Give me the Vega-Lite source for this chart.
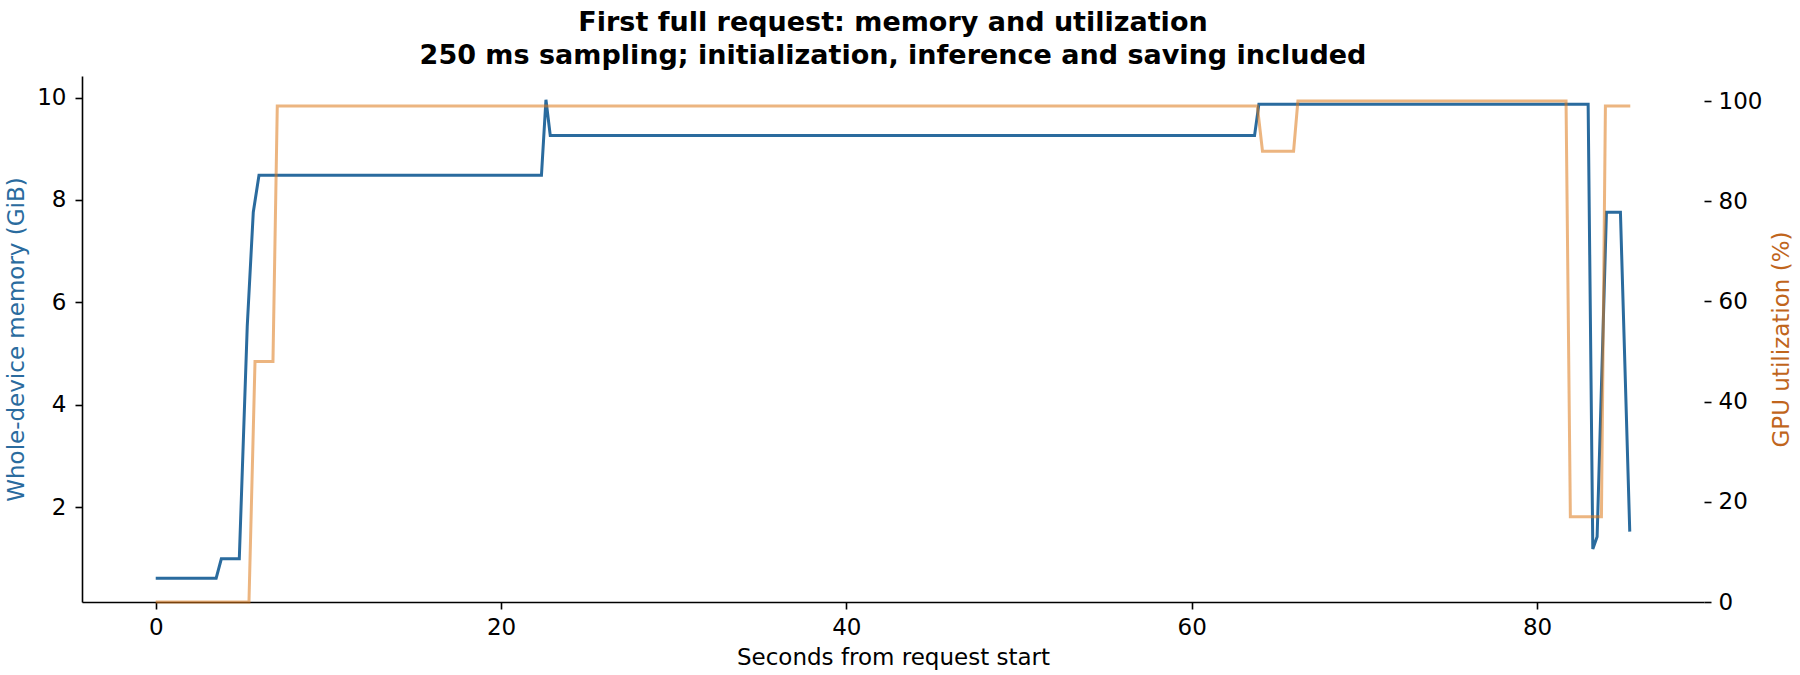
{
  "$schema": "https://vega.github.io/schema/vega-lite/v6.json",
  "width": 1622,
  "height": 526,
  "autosize": {"type": "none"},
  "padding": {"left": 82, "top": 76, "right": 96, "bottom": 73},
  "background": "white",
  "title": {
    "text": ["First full request: memory and utilization", "250 ms sampling; initialization, inference and saving included"],
    "font": "DejaVu Sans",
    "fontSize": 27,
    "fontWeight": "bold",
    "color": "black",
    "anchor": "middle",
    "lineHeight": 33,
    "offset": 6
  },
  "datasets": {
    "memory": [
      {"t": 0.0, "gib": 0.61},
      {"t": 3.5, "gib": 0.61},
      {"t": 3.8, "gib": 0.99},
      {"t": 4.84, "gib": 0.99},
      {"t": 5.3, "gib": 5.53},
      {"t": 5.65, "gib": 7.76},
      {"t": 5.98, "gib": 8.48},
      {"t": 22.34, "gib": 8.48},
      {"t": 22.6, "gib": 9.955},
      {"t": 22.85, "gib": 9.26},
      {"t": 63.64, "gib": 9.26},
      {"t": 63.89, "gib": 9.87},
      {"t": 82.96, "gib": 9.87},
      {"t": 83.23, "gib": 1.18},
      {"t": 83.48, "gib": 1.42},
      {"t": 84.02, "gib": 7.76},
      {"t": 84.83, "gib": 7.76},
      {"t": 85.37, "gib": 1.52}
    ],
    "gpu": [
      {"t": 0.0, "util": 0},
      {"t": 5.4, "util": 0},
      {"t": 5.75, "util": 48},
      {"t": 6.79, "util": 48},
      {"t": 7.04, "util": 99},
      {"t": 63.8, "util": 99},
      {"t": 64.1, "util": 90},
      {"t": 65.9, "util": 90},
      {"t": 66.15, "util": 100},
      {"t": 81.68, "util": 100},
      {"t": 81.93, "util": 17},
      {"t": 83.73, "util": 17},
      {"t": 83.96, "util": 99},
      {"t": 85.4, "util": 99}
    ]
  },
  "layer": [
    {
      "data": {"name": "memory"},
      "mark": {"type": "line", "color": "#2a6b9e", "strokeWidth": 3},
      "encoding": {
        "x": {
          "field": "t", "type": "quantitative",
          "scale": {"domain": [-4.27, 89.67], "nice": false, "zero": false},
          "axis": {
            "title": "Seconds from request start",
            "values": [0, 20, 40, 60, 80],
            "titleY": 62, "titleBaseline": "alphabetic",
            "labelPadding": 7
          }
        },
        "y": {
          "field": "gib", "type": "quantitative",
          "scale": {"domain": [0.145, 10.42], "nice": false, "zero": false},
          "axis": {
            "title": "Whole-device memory (GiB)",
            "orient": "left",
            "values": [2, 4, 6, 8, 10],
            "titleColor": "#2a6b9e",
            "titleAngle": 270,
            "titleX": -66, "titleY": 263,
            "titleBaseline": "middle",
            "labelPadding": 9
          }
        }
      }
    },
    {
      "data": {"name": "gpu"},
      "mark": {"type": "line", "color": "#dc7818", "strokeOpacity": 0.55, "strokeWidth": 3},
      "encoding": {
        "x": {"field": "t", "type": "quantitative"},
        "y": {
          "field": "util", "type": "quantitative",
          "scale": {"domain": [0, 105], "nice": false},
          "axis": {
            "title": "GPU utilization (%)",
            "orient": "right",
            "values": [0, 20, 40, 60, 80, 100],
            "domain": false,
            "titleColor": "#c0651c",
            "titleAngle": 270,
            "titleX": 77, "titleY": 263,
            "titleBaseline": "middle",
            "labelPadding": 7
          }
        }
      }
    }
  ],
  "resolve": {"scale": {"y": "independent"}},
  "config": {
    "view": {"stroke": null},
    "axis": {
      "grid": false,
      "domainColor": "black",
      "domainWidth": 1.6,
      "tickColor": "black",
      "tickWidth": 1.6,
      "tickSize": 7,
      "labelFont": "DejaVu Sans",
      "labelFontSize": 23,
      "labelColor": "black",
      "titleFont": "DejaVu Sans",
      "titleFontSize": 23,
      "titleFontWeight": "normal",
      "titleColor": "black"
    }
  }
}
